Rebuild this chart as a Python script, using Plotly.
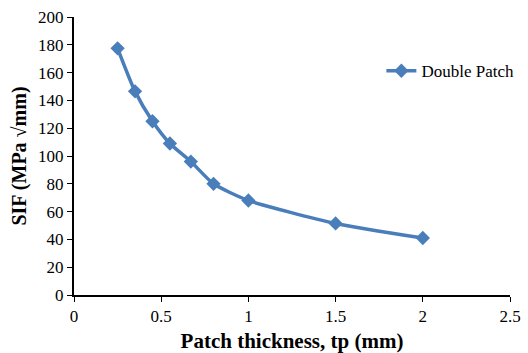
import plotly.graph_objects as go

thickness = [0.25, 0.35, 0.45, 0.55, 0.67, 0.8, 1.0, 1.5, 2.0]
sif = [177.5, 146.5, 125, 109, 96, 80, 68, 51.5, 41]
series_name = "Double Patch"

color = "#4a7ebb"
font = "Liberation Serif, Times New Roman, serif"

fig = go.Figure()
fig.add_trace(go.Scatter(
    x=thickness, y=sif, name=series_name, mode="lines+markers",
    line=dict(color=color, width=3.5, shape="spline", smoothing=0.6),
    marker=dict(symbol="diamond", size=11, color=color),
))

fig.update_layout(
    width=528, height=353,
    margin=dict(l=74, r=18, t=17, b=58, autoexpand=False),
    paper_bgcolor="white", plot_bgcolor="white",
    font=dict(family=font, size=17, color="black"),
    showlegend=True,
    legend=dict(x=0.705, y=0.805, xanchor="left", yanchor="middle",
                font=dict(family=font, size=17, color="black"),
                bgcolor="rgba(0,0,0,0)", itemwidth=30),
    xaxis=dict(
        range=[0, 2.5], tickvals=[0, 0.5, 1, 1.5, 2, 2.5],
        ticktext=["0", "0.5", "1", "1.5", "2", "2.5"],
        showline=True, linecolor="black", linewidth=2,
        ticks="outside", ticklen=5, tickcolor="black", tickwidth=1,
        showgrid=False, zeroline=False, automargin=False,
        title=dict(text="<b>Patch thickness, tp (mm)</b>", font=dict(family=font, size=21), standoff=8),
    ),
    yaxis=dict(
        range=[0, 200], tickvals=list(range(0, 201, 20)),
        showline=True, linecolor="black", linewidth=2,
        ticks="outside", ticklen=5, tickcolor="black", tickwidth=1,
        showgrid=False, zeroline=False, automargin=False,
        title=dict(text="<b>SIF (MPa √mm)</b>", font=dict(family=font, size=20), standoff=6),
    ),
)

fig.write_html("out.html")
